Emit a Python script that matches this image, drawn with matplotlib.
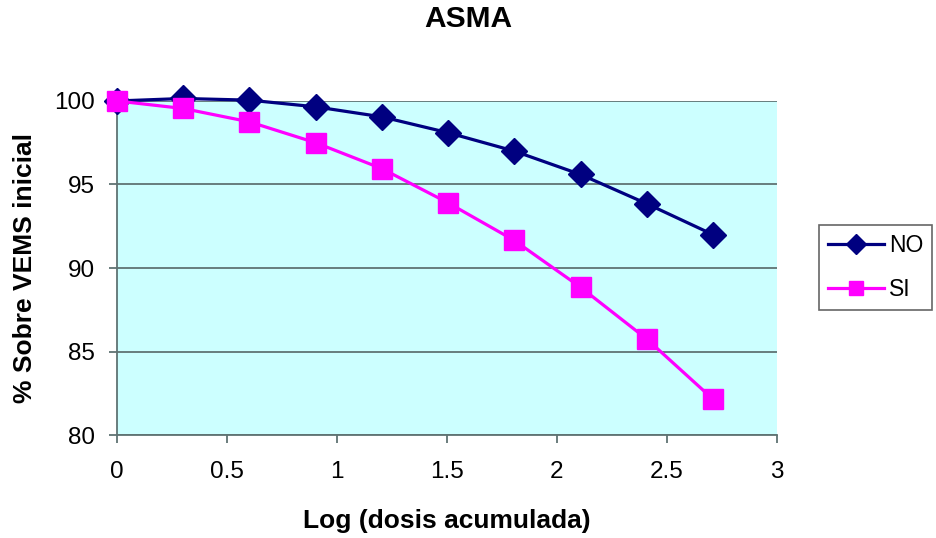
import matplotlib.pyplot as plt

plt.rcParams['font.family'] = ['Liberation Sans', 'DejaVu Sans']

# data
log_dose = [0, 0.301, 0.602, 0.903, 1.204, 1.505, 1.806, 2.107, 2.408, 2.709]
no_vals = [100.0, 100.15, 100.05, 99.65, 99.05, 98.1, 97.0, 95.6, 93.85, 92.0]
si_vals = [100.0, 99.55, 98.75, 97.5, 95.95, 93.9, 91.65, 88.85, 85.75, 82.15]
x_ticks = [0, 0.5, 1, 1.5, 2, 2.5, 3]
x_labels = ['0', '0.5', '1', '1.5', '2', '2.5', '3']
y_ticks = [80, 85, 90, 95, 100]

fig = plt.figure(figsize=(9.37, 5.38), dpi=100)
ax = fig.add_axes([0.1249, 0.1914, 0.7043, 0.6209])
ax.set_facecolor('#CCFFFF')

ax.plot(log_dose, no_vals, color='#000080', lw=2.3, marker='D', ms=13,
        label='NO', clip_on=False, zorder=3)
ax.plot(log_dose, si_vals, color='#FF00FF', lw=2.3, marker='s', ms=14,
        label='SI', clip_on=False, zorder=4)

ax.set_xlim(0, 3)
ax.set_ylim(80, 100)
ax.set_xticks(x_ticks)
ax.set_xticklabels(x_labels)
ax.set_yticks(y_ticks)
ax.grid(axis='y', color='#5f7373', lw=1.3)
ax.set_axisbelow(True)

for s in ['top', 'right']:
    ax.spines[s].set_visible(False)
for s in ['left', 'bottom']:
    ax.spines[s].set_color('#5f7373')
    ax.spines[s].set_linewidth(1.3)
ax.tick_params(direction='out', length=6, width=1.3, color='#5f7373',
               labelsize=17.5)
ax.tick_params(axis='x', pad=13)
ax.tick_params(axis='y', pad=10)

fig.text(0.4995, 0.9656, 'ASMA', fontsize=21.5, fontweight='bold',
         ha='center', va='center')
ax.set_xlabel('Log (dosis acumulada)', fontsize=19, fontweight='bold', va='center')
ax.xaxis.set_label_coords(0.5, -0.2575)
ax.set_ylabel('% Sobre VEMS inicial', fontsize=19, fontweight='bold', va='center')
ax.yaxis.set_label_coords(-0.1394, 0.5)

leg = ax.legend(loc='upper left', bbox_to_anchor=(0.874, 0.582),
                bbox_transform=fig.transFigure, fontsize=16.5,
                frameon=True, fancybox=False, edgecolor='#404040',
                handlelength=2.45, borderpad=0.4, borderaxespad=0,
                labelspacing=0.9, handletextpad=0.2, markerscale=0.75)
leg.get_frame().set_linewidth(1.2)

fig.savefig('out.png', dpi=100)
